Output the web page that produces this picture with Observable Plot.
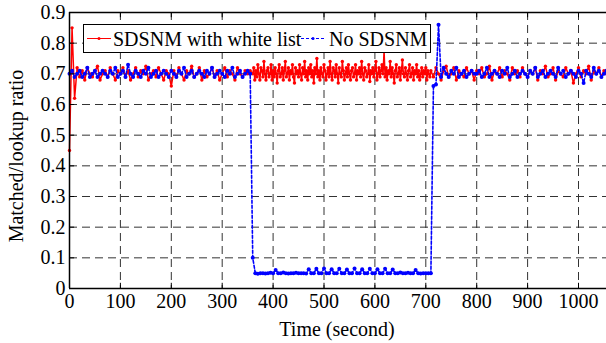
<!DOCTYPE html>
<html><head><meta charset="utf-8">
<script src="https://cdn.jsdelivr.net/npm/d3@7"></script>
<script src="https://cdn.jsdelivr.net/npm/@observablehq/plot@0.6"></script>
<style>body{margin:0;background:#fff}</style>
</head><body><div id="chart"></div>
<script>
const seriesNames = ["SDSNM with white list", "No SDSNM"];
// SDSNM with white list — three sampled stretches: [start t, step, values]
const redStartA = 0, redStepA = 5;     // t = 0..355
const redValuesA = [
0.45,0.85,0.62,0.72,0.69,0.71,0.68,0.72,0.70,0.69,0.71,0.725,0.68,0.70,0.71,0.69,0.72,0.70,0.68,0.71,
0.70,0.72,0.69,0.71,0.68,0.70,0.72,0.69,0.71,0.70,0.725,0.68,0.70,0.71,0.69,0.72,0.70,0.68,0.71,0.70,
0.66,0.71,0.69,0.72,0.70,0.68,0.71,0.70,0.725,0.69,0.70,0.72,0.68,0.71,0.69,0.70,0.72,0.69,0.71,0.68,
0.70,0.72,0.69,0.71,0.70,0.68,0.72,0.70,0.69,0.71,0.70,0.71
];
const redStartB = 360, redStepB = 2;   // t = 360..708
const redValuesB = [
0.70,0.72,0.68,0.71,0.69,0.73,0.70,0.68,0.72,0.71,0.69,0.74,0.70,0.68,0.71,0.72,0.69,0.70,0.73,0.68,0.71,0.69,0.72,0.70,0.67,
0.71,0.73,0.69,0.70,0.72,0.68,0.71,0.74,0.69,0.70,0.72,0.68,0.71,0.70,0.73,0.69,0.67,0.72,0.70,0.71,0.69,0.73,0.70,0.68,0.72,
0.70,0.74,0.69,0.71,0.68,0.72,0.70,0.73,0.69,0.71,0.67,0.72,0.70,0.75,0.69,0.71,0.68,0.72,0.70,0.69,0.73,0.71,0.68,0.70,0.72,
0.69,0.74,0.70,0.68,0.72,0.71,0.69,0.73,0.70,0.67,0.72,0.70,0.69,0.74,0.71,0.68,0.70,0.72,0.69,0.73,0.70,0.68,0.71,0.72,0.69,
0.70,0.73,0.68,0.71,0.70,0.72,0.69,0.74,0.70,0.68,0.72,0.71,0.69,0.70,0.73,0.675,0.71,0.70,0.72,0.69,0.71,0.74,0.68,0.70,0.72,
0.69,0.71,0.73,0.70,0.775,0.69,0.72,0.68,0.71,0.70,0.74,0.69,0.72,0.70,0.67,0.71,0.73,0.69,0.70,0.72,0.68,0.71,0.745,0.70,0.69,
0.72,0.70,0.68,0.71,0.73,0.69,0.70,0.72,0.68,0.71,0.70,0.73,0.69,0.71,0.68,0.70,0.72,0.69,0.71,0.70,0.72,0.68,0.71,0.70,0.69
];
const redStartC = 710, redStepC = 5;   // t = 710..1055
const redValuesC = [
0.71,0.69,0.72,0.70,0.68,0.71,0.725,0.69,0.70,0.72,0.68,0.71,0.70,0.69,0.72,0.70,0.71,0.68,
0.71,0.70,0.72,0.69,0.70,0.725,0.68,0.71,0.70,0.72,0.69,0.71,0.70,0.68,0.72,0.70,0.71,0.69,0.72,0.70,
0.69,0.71,0.70,0.72,0.68,0.71,0.70,0.725,0.69,0.70,0.72,0.68,0.71,0.70,0.69,0.72,0.70,0.71,0.67,0.70,
0.72,0.69,0.71,0.70,0.725,0.68,0.71,0.70,0.72,0.69,0.71,0.70
];
// No SDSNM, t = 0,5,10,...,1055
const blueStart = 0, blueStep = 5;
const blueValues = [
0.70,0.71,0.69,0.70,0.71,0.69,0.70,0.72,0.69,0.70,0.71,0.69,0.70,0.71,0.70,0.69,0.71,0.70,0.72,0.69,
0.70,0.71,0.69,0.73,0.70,0.69,0.71,0.70,0.69,0.71,0.70,0.72,0.69,0.70,0.71,0.69,0.70,0.71,0.70,0.69,
0.71,0.70,0.69,0.71,0.70,0.72,0.69,0.70,0.71,0.69,0.70,0.71,0.70,0.69,0.71,0.70,0.72,0.69,0.70,0.71,
0.70,0.69,0.71,0.70,0.72,0.69,0.70,0.71,0.69,0.70,0.71,0.70,0.10,0.05,0.048,0.05,0.05,0.049,0.05,0.051,
0.05,0.06,0.05,0.05,0.052,0.05,0.049,0.05,0.05,0.051,0.05,0.05,0.05,0.049,0.063,0.05,0.05,0.064,0.05,0.05,
0.065,0.05,0.05,0.063,0.05,0.05,0.064,0.05,0.05,0.062,0.05,0.05,0.065,0.05,0.05,0.063,0.05,0.05,0.064,0.05,
0.05,0.063,0.05,0.05,0.064,0.05,0.05,0.062,0.05,0.05,0.052,0.05,0.05,0.051,0.05,0.05,0.06,0.05,0.049,0.05,
0.05,0.05,0.05,0.66,0.665,0.86,0.69,0.72,0.70,0.69,0.71,0.70,0.72,0.69,0.70,0.71,0.69,0.70,0.71,0.70,
0.70,0.71,0.69,0.70,0.72,0.69,0.70,0.71,0.70,0.69,0.71,0.70,0.72,0.69,0.70,0.71,0.69,0.70,0.71,0.70,
0.69,0.71,0.70,0.72,0.69,0.70,0.71,0.69,0.70,0.71,0.70,0.69,0.72,0.70,0.71,0.69,0.70,0.71,0.70,0.69,
0.71,0.70,0.67,0.71,0.70,0.69,0.72,0.70,0.71,0.69,0.70,0.71
];
const xTicks = [0,100,200,300,400,500,600,700,800,900,1000];
const yTicks = [0,0.1,0.2,0.3,0.4,0.5,0.6,0.7,0.8,0.9];
const xLabel = "Time (second)";
const yLabel = "Matched/lookup ratio";

const stretch = (start, step, vals) => vals.map((v, i) => ({t: start + i * step, v}));
const red = [
  ...stretch(redStartA, redStepA, redValuesA),
  ...stretch(redStartB, redStepB, redValuesB),
  ...stretch(redStartC, redStepC, redValuesC)
];
const blue = stretch(blueStart, blueStep, blueValues);

const font = "'Liberation Serif', 'Times New Roman', serif";
const gridStyle = {stroke: "#333", strokeWidth: 1, strokeDasharray: "8,5"};

const svg = Plot.plot({
  width: 606, height: 343,
  marginLeft: 69, marginRight: 0, marginTop: 12, marginBottom: 55,
  x: {domain: [0, 1055]},
  y: {domain: [0, 0.9]},
  style: {fontFamily: font, fontSize: "20px", color: "#000", background: "#fff", overflow: "visible"},
  marks: [
    Plot.ruleX(xTicks.filter(d => d > 0), gridStyle),
    Plot.ruleY(yTicks.filter(d => d > 0 && d < 0.9), gridStyle),
    Plot.line(red, {x: "t", y: "v", stroke: "#ff0000", strokeWidth: 1.5}),
    Plot.dot(red, {x: "t", y: "v", r: 1.7, fill: "#ff0000"}),
    Plot.line(blue, {x: "t", y: "v", stroke: "#0000ff", strokeWidth: 1.6, strokeDasharray: "3,2"}),
    Plot.dot(blue, {x: "t", y: "v", r: 2, fill: "#0000ff"}),
    // inward ticks (MATLAB style)
    Plot.ruleX(xTicks, {y1: 0, y2: 0.017, stroke: "#000", strokeWidth: 1}),
    Plot.ruleX(xTicks, {y1: 0.9, y2: 0.883, stroke: "#000", strokeWidth: 1}),
    Plot.ruleY(yTicks, {x1: 0, x2: 10, stroke: "#000", strokeWidth: 1}),
    // box
    Plot.ruleY([0, 0.9], {stroke: "#000", strokeWidth: 1.5}),
    Plot.ruleX([0], {stroke: "#000", strokeWidth: 1.5}),
    Plot.axisX(xTicks, {tickSize: 0, tickPadding: 5, label: null, tickFormat: d => String(d)}),
    Plot.axisY(yTicks, {tickSize: 0, tickPadding: 4, label: null, tickFormat: d => d === 0 ? "0" : d.toFixed(1)})
  ]
});

const s = d3.select(svg);
// axis titles
s.append("text").attr("x", 337).attr("y", 336).attr("text-anchor", "middle")
  .style("font-family", font).style("font-size", "20px").attr("fill", "#000").text(xLabel);
s.append("text").attr("transform", "translate(23,156) rotate(-90)").attr("text-anchor", "middle")
  .style("font-family", font).style("font-size", "20px").attr("fill", "#000").text(yLabel);

// legend
const lg = s.append("g").attr("text-anchor", "start");
lg.append("rect").attr("x", 83.5).attr("y", 24.5).attr("width", 347).attr("height", 28)
  .attr("fill", "#fff").attr("stroke", "#000").attr("stroke-width", 1);
const colors = ["#ff0000", "#0000ff"];
const sampleX = [87, 301];
const textX = [113, 329];
seriesNames.forEach((name, i) => {
  lg.append("line").attr("x1", sampleX[i]).attr("x2", sampleX[i] + 24).attr("y1", 38.5).attr("y2", 38.5)
    .attr("stroke", colors[i]).attr("stroke-width", 1).attr("stroke-dasharray", i ? "3,2" : null);
  lg.append("circle").attr("cx", sampleX[i] + 12).attr("cy", 38.5).attr("r", 1.5).attr("fill", colors[i]);
  lg.append("text").attr("x", textX[i]).attr("y", 45.5)
    .style("font-family", font).style("font-size", "20px")
    .attr("text-anchor", "start").attr("fill", "#000").text(name);
});

document.getElementById("chart").appendChild(svg);
</script>
</body></html>
